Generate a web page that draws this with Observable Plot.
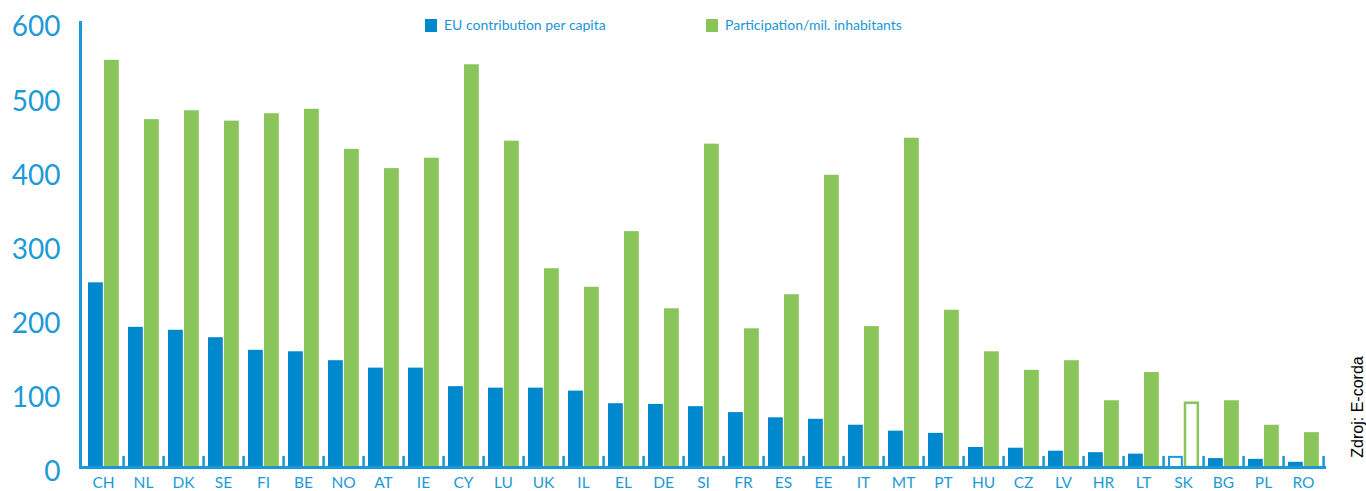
<!DOCTYPE html>
<html><head><meta charset="utf-8">
<script src="https://cdn.jsdelivr.net/npm/d3@7"></script>
<script src="https://cdn.jsdelivr.net/npm/@observablehq/plot@0.6"></script>
<style>
body{margin:0;background:#fff;}
#wrap{position:relative;width:1366px;height:491px;overflow:hidden;}
.leg{position:absolute;top:17px;font-family:Lato,"Open Sans",sans-serif;font-size:14px;color:#1a96d4;display:flex;align-items:center;white-space:nowrap;line-height:16px;}
.sw{width:12px;height:13px;display:inline-block;margin-right:7px;}
#src{position:absolute;left:1358px;top:407px;transform:translate(-50%,-50%) rotate(-90deg);font-family:"Liberation Sans",Arial,sans-serif;font-size:16px;color:#000;white-space:nowrap;}
</style></head>
<body>
<div id="wrap"></div>
<script>
const countries = ["CH","NL","DK","SE","FI","BE","NO","AT","IE","CY","LU","UK","IL","EL","DE","SI","FR","ES","EE","IT","MT","PT","HU","CZ","LV","HR","LT","SK","BG","PL","RO"];
const euContribution = [249,189,185,175,158,156,144,134,134,109,107,107,103,86,85,82,74,67,65,57,49,46,27,26,22,20,18,15,12,11,7];
const participation = [549,469,481,467,477,483,429,403,417,543,440,268,243,318,214,436,187,233,394,190,444,212,156,131,144,90,128,88,90,57,47];
const yTicks = [0,100,200,300,400,500,600];
const seriesNames = ["EU contribution per capita","Participation/mil. inhabitants"];
const highlighted = "SK";
const sourceText = "Zdroj: E-corda";

const blue = "#0088cf", green = "#8ac55b", axisBlue = "#1b98d8", labelBlue = "#1e9ad6";
const data = countries.map((c,i)=>({country:c, eu:euContribution[i], part:participation[i], hollow:c===highlighted}));
const solid = data.filter(d=>!d.hollow);
const hollow = data.filter(d=>d.hollow);
const bw = (1366-80-40)/countries.length;

const chart = Plot.plot({
  width:1366, height:491,
  marginLeft:80, marginRight:40, marginTop:22, marginBottom:24,
  style:{fontFamily:"Lato, 'Open Sans', sans-serif", background:"transparent", overflow:"visible"},
  x:{domain:countries, padding:0, axis:null},
  y:{domain:[0,600], axis:null},
  marks:[
    Plot.barY(solid,{x:"country", y:"eu", fill:blue, insetLeft:5, insetRight:bw-20}),
    Plot.barY(solid,{x:"country", y:"part", fill:green, insetLeft:21, insetRight:bw-36}),
    Plot.barY(hollow,{x:"country", y:"eu", fill:"white", stroke:axisBlue, strokeWidth:2, insetLeft:6, insetRight:bw-19, insetTop:1}),
    Plot.barY(hollow,{x:"country", y:"part", fill:"white", stroke:green, strokeWidth:2.5, insetLeft:22, insetRight:bw-35, insetTop:1}),
    Plot.ruleX(countries,{x:d=>d, y1:0, y2:15, dx:bw/2, stroke:axisBlue, strokeWidth:2.5}),
    Plot.ruleY([0],{stroke:axisBlue, strokeWidth:3}),
    Plot.frame({anchor:"left", stroke:axisBlue, strokeWidth:3}),
    Plot.axisY({ticks:yTicks, tickSize:0, tickPadding:20, fontSize:28, dy:5, color:labelBlue, tickFormat:d=>String(d)}),
    Plot.axisX({tickSize:0, tickPadding:9, fontSize:15.5, color:labelBlue, label:null})
  ]
});
const wrap = document.getElementById("wrap");
wrap.appendChild(chart);

const legPos = [{left:425, color:blue},{left:706, color:green}];
seriesNames.forEach((n,i)=>{
  const d = document.createElement("div");
  d.className = "leg";
  d.style.left = legPos[i].left + "px";
  d.innerHTML = `<span class="sw" style="background:${legPos[i].color}"></span><span>${n}</span>`;
  wrap.appendChild(d);
});
const s = document.createElement("div");
s.id = "src"; s.textContent = sourceText;
wrap.appendChild(s);
</script>
</body></html>
